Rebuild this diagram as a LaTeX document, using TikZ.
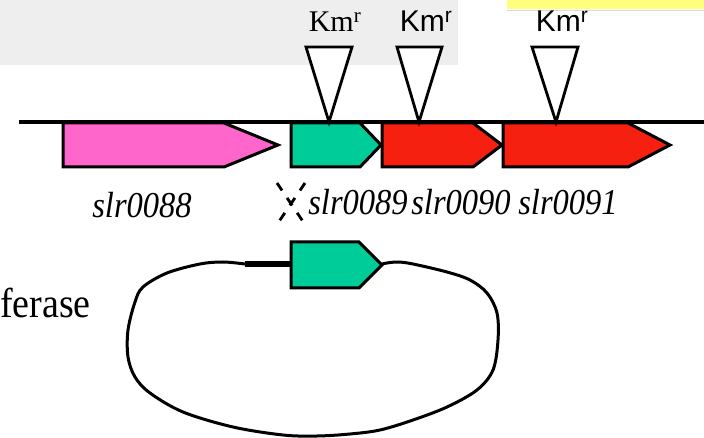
\documentclass[tikz,border=0pt]{standalone}
\usepackage{fontspec}
\setmainfont{Liberation Serif}
\newfontfamily\arialf{Liberation Sans}
\definecolor{bggray}{RGB}{238,238,238}
\definecolor{yellowbar}{RGB}{255,255,125}
\definecolor{genegreen}{RGB}{0,204,153}
\definecolor{genered}{RGB}{245,32,16}
\definecolor{genepink}{RGB}{255,102,204}
\tikzset{
  genebox/.style={draw=black, line width=3pt, line join=miter},
  insert/.style={draw=black, fill=white, line width=2.8pt, line join=miter},
  kmlabel/.style={anchor=base, inner sep=0pt, font=\fontsize{30}{30}\selectfont},
  genelabel/.style={anchor=base, inner sep=0pt, font=\fontsize{32.5}{33}\selectfont\itshape},
}
\begin{document}
\begin{tikzpicture}[x=1pt,y=-1pt]
\useasboundingbox (0,0) rectangle (704,438);
% backgrounds
\fill[fill=bggray] (0,0) rectangle (458,65);
\fill[fill=yellowbar] (507,0) rectangle (704,9);
\draw[draw=gray!30, line width=1pt] (507,11) -- (704,11);
% Km labels
\node[kmlabel] (km1) at (335,32) {Km\textsuperscript{r}};
\node[kmlabel, font=\fontsize{30}{30}\selectfont\arialf] (km2) at (426,32) {Km\textsuperscript{r}};
\node[kmlabel, font=\fontsize{30}{30}\selectfont\arialf] (km3) at (562,32) {Km\textsuperscript{r}};
% chromosome line
\coordinate (chrL) at (19,122);
\coordinate (chrR) at (704,122);
\draw[line width=3.2pt] (chrL) -- (chrR);
% genes
\draw[genebox, fill=genepink] (63,123) -- (224,123) -- (278,145) -- (224,167) -- (63,167) -- cycle;
\draw[genebox, fill=genegreen] (291,123) -- (360,123) -- (381,145) -- (360,167) -- (291,167) -- cycle;
\draw[genebox, fill=genered] (382,123) -- (473,123) -- (502,145) -- (473,167) -- (382,167) -- cycle;
\draw[genebox, fill=genered] (503,123) -- (628,123) -- (670,145) -- (628,167) -- (503,167) -- cycle;
% insertion triangles
\draw[insert] (306,47) -- (352,47) -- (329,122) -- cycle;
\draw[insert] (397,47) -- (442,47) -- (419,122) -- cycle;
\draw[insert] (532,47) -- (578,47) -- (556,122) -- cycle;
% gene labels
\node[genelabel] (l88) at (142,218) {\scalebox{1}[1.12]{slr0088}};
\node[genelabel] (l89) at (358,215) {\scalebox{1}[1.12]{slr0089}};
\node[genelabel] (l90) at (461,215) {\scalebox{1}[1.12]{slr0090}};
\node[genelabel] (l91) at (568,215) {\scalebox{1}[1.12]{slr0091}};
% dashed cross
\draw[line width=2.8pt, dash pattern=on 9pt off 9pt] (277,183) -- (304,223);
\draw[line width=2.8pt, dash pattern=on 9pt off 9pt] (305,183) -- (278,223);
% ferase text
\node[anchor=base east, inner sep=0pt, font=\fontsize{38}{38}\selectfont] (fer) at (91,317) {\scalebox{1}[1.1]{ferase}};
% plasmid
\coordinate (barL) at (245,264);
\draw[line width=3pt, line join=round] plot[smooth, tension=0.55] coordinates {
 (245,264) (223,262) (200,264) (167,273) (143,287) (135,302) (128,330) (128,357)
 (135,377) (150,393) (183,412) (233,427) (283,435) (317,436) (350,434) (380,430)
 (413,420) (447,407) (477,390) (493,370) (498,340) (497,313) (487,293) (470,280)
 (447,272) (413,264) (398,262) (387,263) (382,264)};
\draw[line width=6pt] (barL) -- (291,264);
\draw[genebox, fill=genegreen] (291,242) -- (359,242) -- (382,265) -- (359,288) -- (291,288) -- cycle;
\end{tikzpicture}
\end{document}
